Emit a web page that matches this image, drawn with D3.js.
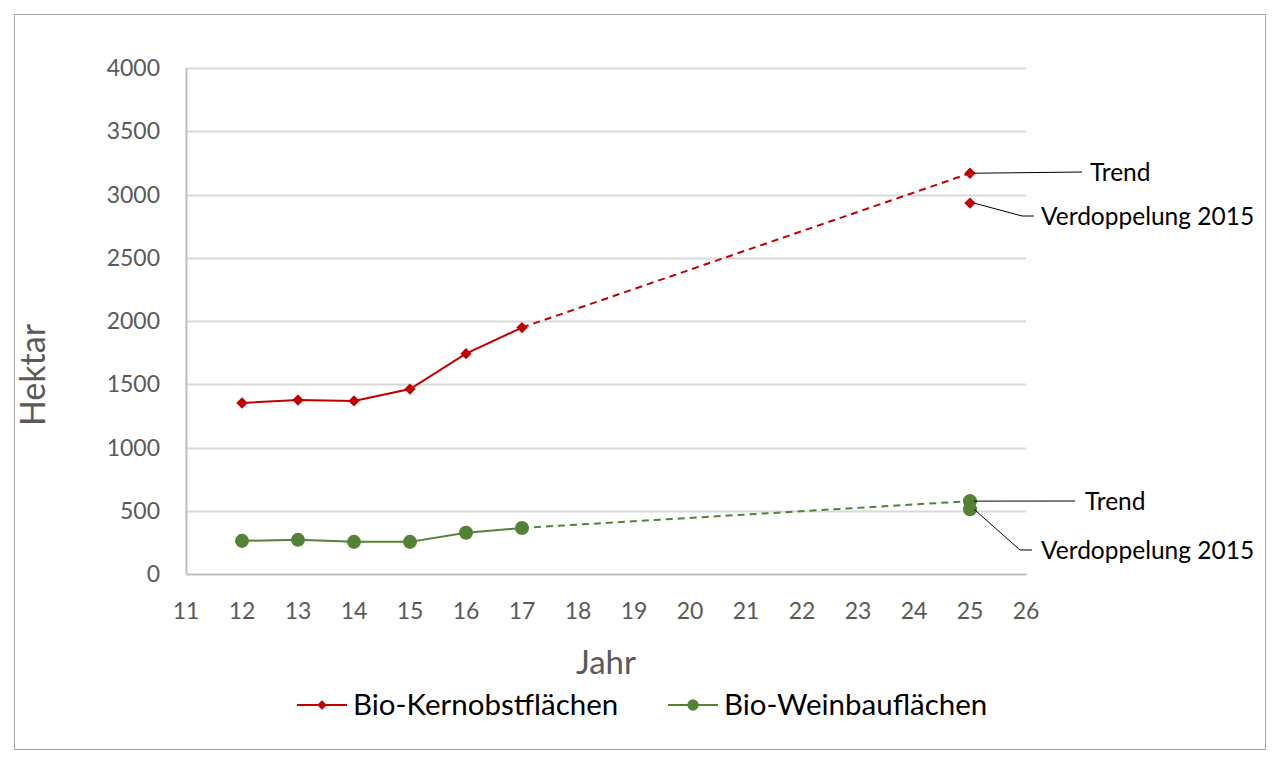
<!DOCTYPE html>
<html>
<head>
<meta charset="utf-8">
<script src="https://cdn.jsdelivr.net/npm/d3@7"></script>
<style>
  body { margin: 0; background: #fff; overflow: hidden; }
  svg { display: block; }
  text { font-family: Lato, "Noto Sans", sans-serif; }
</style>
</head>
<body>
<div id="plot"></div>
<script>
// data
const years = [12, 13, 14, 15, 16, 17];
const kernobst = [1352, 1375, 1368, 1462, 1742, 1948];
const weinbau = [262, 270, 254, 254, 326, 364];
const trendYear = 25;
const kernobstTrend = 3168;
const kernobstDouble = 2932;
const weinbauTrend = 576;
const weinbauDouble = 512;
const xTicks = d3.range(11, 27);
const yTicks = [0, 500, 1000, 1500, 2000, 2500, 3000, 3500, 4000];
const seriesNames = ["Bio-Kernobstflächen", "Bio-Weinbauflächen"];

const w = 1281, h = 765;
const margin = {left: 186, top: 68, right: 255, bottom: 191};
const innerWidth = w - margin.left - margin.right;
const innerHeight = h - margin.top - margin.bottom;

const red = "#c00000", green = "#548235", grid = "#d9d9d9", axisCol = "#bfbfbf";

const xScale = d3.scaleLinear().domain([11, 26]).range([0, innerWidth]);
const yScale = d3.scaleLinear().domain([0, 4000]).range([innerHeight, 0]);

const svg = d3.select("div#plot")
  .append("svg")
  .attr("width", w)
  .attr("height", h);

// outer frame
svg.append("rect")
  .attr("x", 14.5).attr("y", 14.5)
  .attr("width", 1251).attr("height", 735)
  .attr("fill", "none")
  .attr("stroke", "#a6a6a6");

const g = svg.append("g")
  .attr("id", "plotarea")
  .attr("transform", `translate(${margin.left}, ${margin.top})`);

// gridlines
g.append("g")
  .selectAll("line")
  .data(yTicks.filter(d => d > 0))
  .enter()
  .append("line")
  .attr("x1", 0).attr("x2", innerWidth)
  .attr("y1", d => Math.round(yScale(d)) + 0.5)
  .attr("y2", d => Math.round(yScale(d)) + 0.5)
  .attr("stroke", grid)
  .attr("stroke-width", 2);

// y axis (line only, labels below)
const yAxis = d3.axisLeft(yScale).tickValues([]).tickSize(0);
g.append("g").attr("id", "yaxis").call(yAxis)
  .select(".domain").attr("stroke", axisCol).attr("stroke-width", 2);

g.append("g").attr("id", "ylabels")
  .selectAll("text")
  .data(yTicks)
  .enter()
  .append("text")
  .attr("x", -26)
  .attr("y", d => yScale(d))
  .attr("dy", "0.35em")
  .attr("text-anchor", "end")
  .attr("fill", "#595959")
  .style("font-size", "23px")
  .text(d3.format("d"));

// x axis
const xAxis = d3.axisBottom(xScale).tickValues([]).tickSize(0);
g.append("g").attr("id", "xaxis")
  .attr("transform", `translate(0, ${innerHeight})`)
  .call(xAxis)
  .select(".domain").attr("stroke", axisCol).attr("stroke-width", 2);

g.append("g").attr("id", "xlabels")
  .selectAll("text")
  .data(xTicks)
  .enter()
  .append("text")
  .attr("x", d => xScale(d))
  .attr("y", innerHeight + 37)
  .attr("dy", "0.35em")
  .attr("text-anchor", "middle")
  .attr("fill", "#595959")
  .style("font-size", "23px")
  .text(d => d);

// axis labels
g.append("text")
  .attr("x", innerWidth / 2)
  .attr("y", innerHeight + 100)
  .attr("text-anchor", "middle")
  .attr("fill", "#595959")
  .style("font-size", "33px")
  .text("Jahr");

g.append("text")
  .attr("text-anchor", "middle")
  .attr("transform", `translate(-141, ${yScale(2000) + 54}) rotate(-90)`)
  .attr("fill", "#595959")
  .style("font-size", "34px")
  .text("Hektar");

const line = d3.line().x(d => xScale(d[0])).y(d => yScale(d[1]));

function drawSeries(vals, trend, dbl, color, marker, rot) {
  const pts = years.map((y, i) => [y, vals[i]]);
  g.append("path")
    .attr("d", line(pts))
    .attr("fill", "none")
    .attr("stroke", color)
    .attr("stroke-width", 2);
  g.append("path")
    .attr("d", line([pts[pts.length - 1], [trendYear, trend]]))
    .attr("fill", "none")
    .attr("stroke", color)
    .attr("stroke-width", 2)
    .attr("stroke-dasharray", "7,5");
  const all = pts.concat([[trendYear, trend], [trendYear, dbl]]);
  g.append("g").selectAll("path")
    .data(all)
    .enter()
    .append("path")
    .attr("transform", d => `translate(${xScale(d[0])}, ${yScale(d[1])}) rotate(${rot})`)
    .attr("d", marker)
    .attr("fill", color);
}

drawSeries(kernobst, kernobstTrend, kernobstDouble, red, d3.symbol(d3.symbolSquare, 64)(), 45);
drawSeries(weinbau, weinbauTrend, weinbauDouble, green, d3.symbol(d3.symbolCircle, 155)(), 0);

// callout labels
const callouts = [
  {v: kernobstTrend, text: "Trend", ex: 896, ey: 172, tx: 904},
  {v: kernobstDouble, text: "Verdoppelung 2015", ex: 836, ey: 216, tx: 855, bend: true},
  {v: weinbauTrend, text: "Trend", ex: 889, ey: 501, tx: 899},
  {v: weinbauDouble, text: "Verdoppelung 2015", ex: 834, ey: 550, tx: 855, bend: true}
];
callouts.forEach(c => {
  const px = xScale(trendYear) + 4, py = yScale(c.v);
  const ey = c.ey - margin.top;
  const pts = c.bend
    ? [[px, py], [c.ex, ey], [c.ex + 12, ey]]
    : [[px, py], [c.ex, ey]];
  g.append("path")
    .attr("d", d3.line()(pts))
    .attr("fill", "none")
    .attr("stroke", "#000")
    .attr("stroke-width", 1);
  g.append("text")
    .attr("x", c.tx)
    .attr("y", ey)
    .attr("dy", "0.35em")
    .attr("fill", "#000")
    .style("font-size", "24.5px")
    .text(c.text);
});

// legend
const legend = svg.append("g").attr("id", "legend");
const legendItems = [
  {name: seriesNames[0], color: red, x: 297, marker: d3.symbol(d3.symbolSquare, 45)(), rot: 45},
  {name: seriesNames[1], color: green, x: 668, marker: d3.symbol(d3.symbolCircle, 100)(), rot: 0}
];
legendItems.forEach(it => {
  legend.append("line")
    .attr("x1", it.x).attr("x2", it.x + 50)
    .attr("y1", 705).attr("y2", 705)
    .attr("stroke", it.color).attr("stroke-width", 2);
  legend.append("path")
    .attr("d", it.marker)
    .attr("transform", `translate(${it.x + 25}, 705) rotate(${it.rot})`)
    .attr("fill", it.color);
  legend.append("text")
    .attr("x", it.x + 56)
    .attr("y", 705)
    .attr("dy", "0.35em")
    .attr("fill", "#000")
    .style("font-size", "29.5px")
    .text(it.name);
});
</script>
</body>
</html>
